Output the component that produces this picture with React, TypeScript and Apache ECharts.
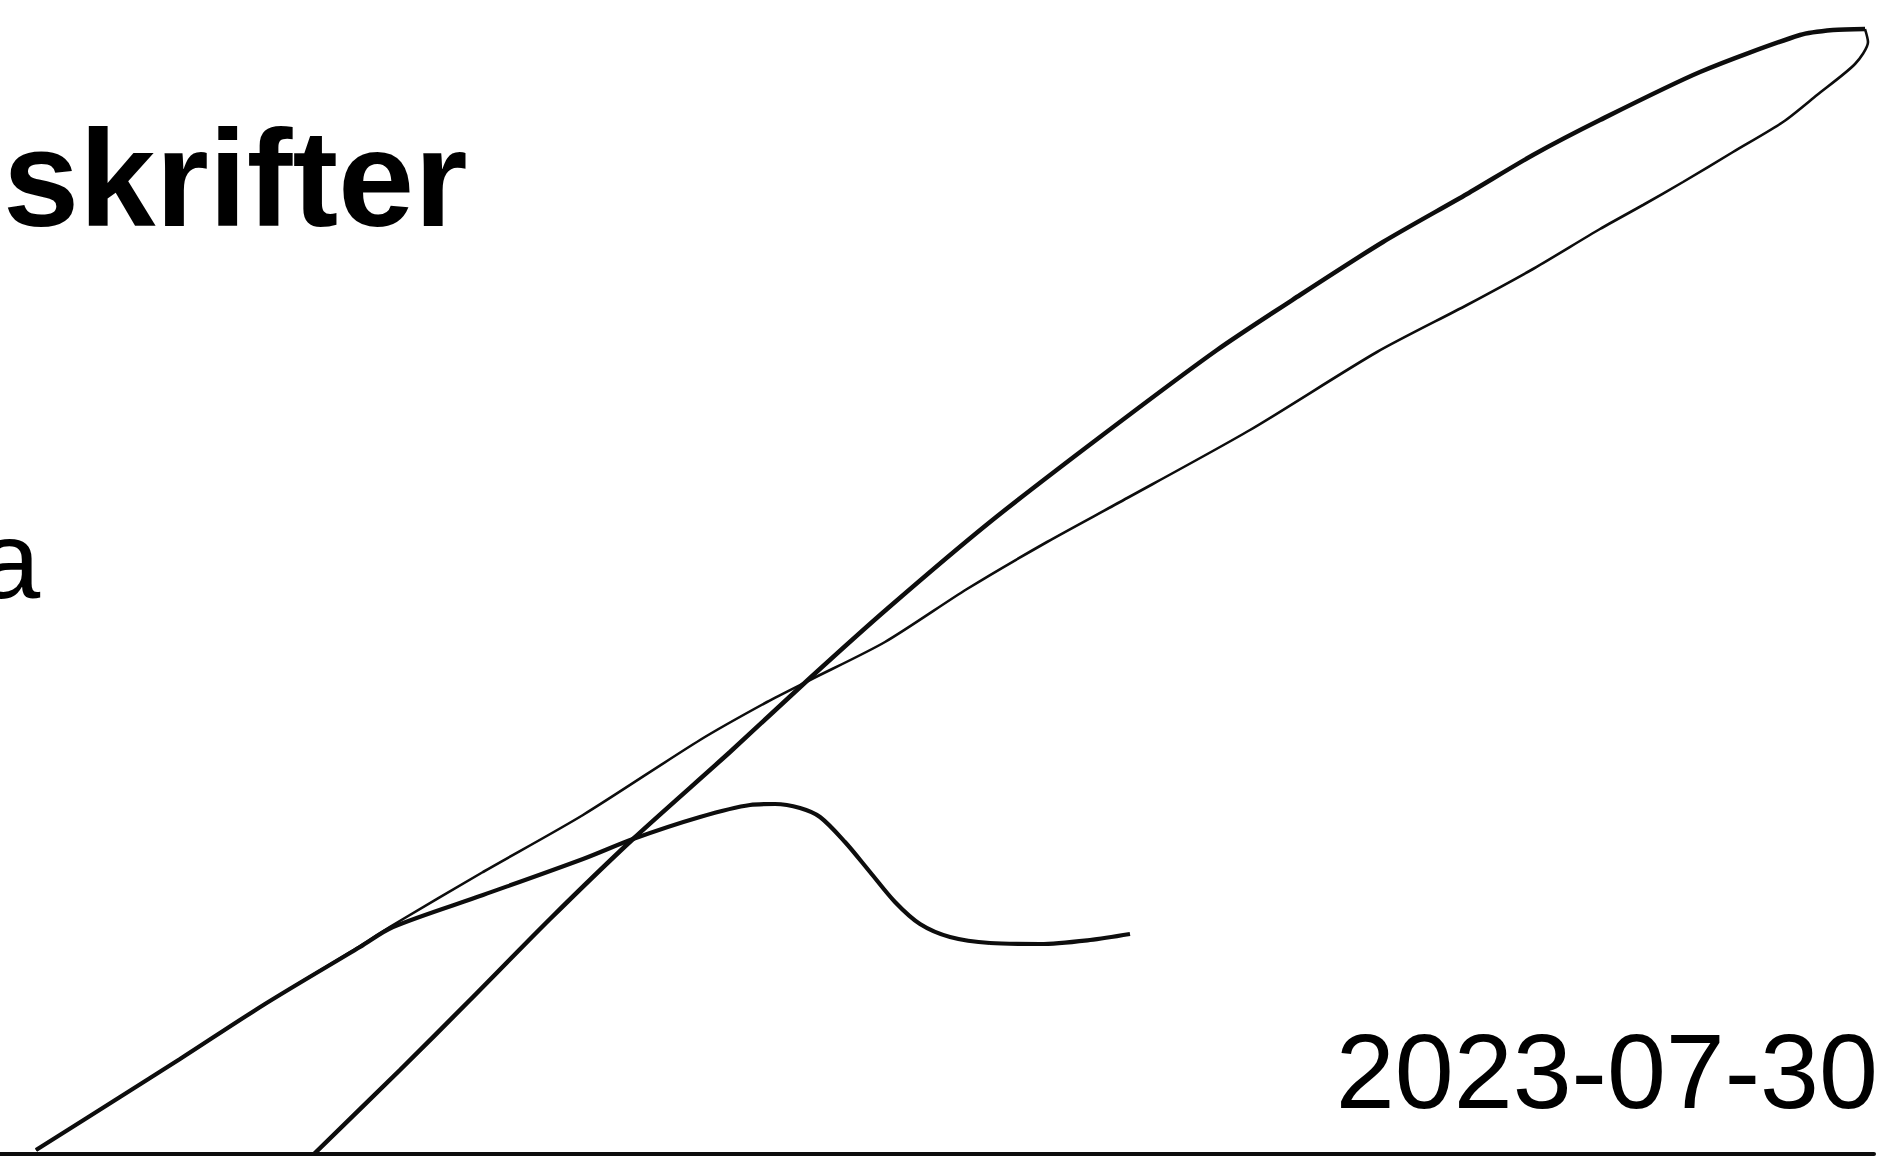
import React, { useEffect, useRef } from "react";
import * as echarts from "echarts";

// Upper (steep, heavy) edge of the loop: from the baseline up to the tip
const upperX = [314, 400, 470, 550, 633, 730, 810, 887, 990, 1100, 1217, 1300, 1383, 1467, 1533, 1600, 1700, 1800, 1833, 1865];
const upperY = [0, 84, 154, 235, 315, 402, 476, 545, 632, 717, 804, 859, 912, 960, 999, 1034, 1082, 1119, 1124, 1125];

// Lower (thin) edge of the loop: from the tip back down to the baseline
const lowerX = [1865, 1868, 1855, 1817, 1783, 1733, 1683, 1643, 1600, 1533, 1467, 1377, 1250, 1120, 1047, 967, 885, 810, 767, 700, 583, 483, 393, 360, 265, 180, 120, 36];
const lowerY = [1125, 1112, 1090, 1059, 1032, 1002, 972, 949, 925, 885, 849, 802, 724, 652, 612, 565, 512, 474, 452, 414, 339, 282, 229, 208, 150, 95, 57, 4];

// Hump curve: shares the first stretch with the loop, then rises and falls
const humpX = [36, 120, 180, 265, 360, 393, 483, 583, 633, 700, 750, 775, 800, 820, 845, 870, 895, 920, 950, 990, 1040, 1090, 1130];
const humpY = [4, 57, 95, 150, 207, 227, 259, 295, 315, 337, 349, 350, 346, 337, 312, 282, 252, 230, 217, 211, 210, 214, 220];

const titleText = "skrifter";
const sideText = "a";
const dateText = "2023-07-30";

const FONT = "'Liberation Sans', Arial, Helvetica, sans-serif";

function zip(xs: number[], ys: number[]) {
  return xs.map((x, i) => [x, ys[i]]);
}

export default function App() {
  const ref = useRef<HTMLDivElement>(null);

  useEffect(() => {
    if (!ref.current) return;
    const chart = echarts.init(ref.current, undefined, { renderer: "svg" });
    const lineColor = "#0d0d0d";
    chart.setOption({
      animation: false,
      backgroundColor: "#ffffff",
      grid: { left: 0, right: 10, top: 0, bottom: 16, containLabel: false },
      xAxis: {
        type: "value",
        min: 0,
        max: 1874,
        axisLine: { show: true, onZero: false, lineStyle: { color: lineColor, width: 4 } },
        axisTick: { show: false },
        axisLabel: { show: false },
        splitLine: { show: false },
      },
      yAxis: {
        type: "value",
        min: 0,
        max: 1154,
        axisLine: { show: false },
        axisTick: { show: false },
        axisLabel: { show: false },
        splitLine: { show: false },
      },
      series: [
        {
          name: "upper",
          type: "line",
          data: zip(upperX, upperY),
          showSymbol: false,
          smooth: 0.25,
          lineStyle: { color: lineColor, width: 4.5 },
          z: 3,
        },
        {
          name: "lower",
          type: "line",
          data: zip(lowerX, lowerY),
          showSymbol: false,
          smooth: 0.25,
          lineStyle: { color: lineColor, width: 2.6 },
          z: 2,
        },
        {
          name: "hump",
          type: "line",
          data: zip(humpX, humpY),
          showSymbol: false,
          smooth: 0.3,
          lineStyle: { color: lineColor, width: 4.2 },
          z: 2,
        },
      ],
      graphic: [
        {
          type: "text",
          x: 3,
          y: 178,
          style: {
            text: titleText,
            font: `bold 137px ${FONT}`,
            fill: "#000000",
            align: "left",
            verticalAlign: "middle",
          },
        },
        {
          type: "text",
          x: -21,
          y: 559,
          style: {
            text: sideText,
            font: `110px ${FONT}`,
            fill: "#000000",
            align: "left",
            verticalAlign: "middle",
          },
        },
        {
          type: "text",
          x: 1878,
          y: 1071,
          style: {
            text: dateText,
            font: `106px ${FONT}`,
            fill: "#000000",
            align: "right",
            verticalAlign: "middle",
          },
        },
      ],
    });
    return () => chart.dispose();
  }, []);

  return (
    <div
      ref={ref}
      style={{ position: "absolute", left: 0, top: 0, width: 1884, height: 1170 }}
    />
  );
}
